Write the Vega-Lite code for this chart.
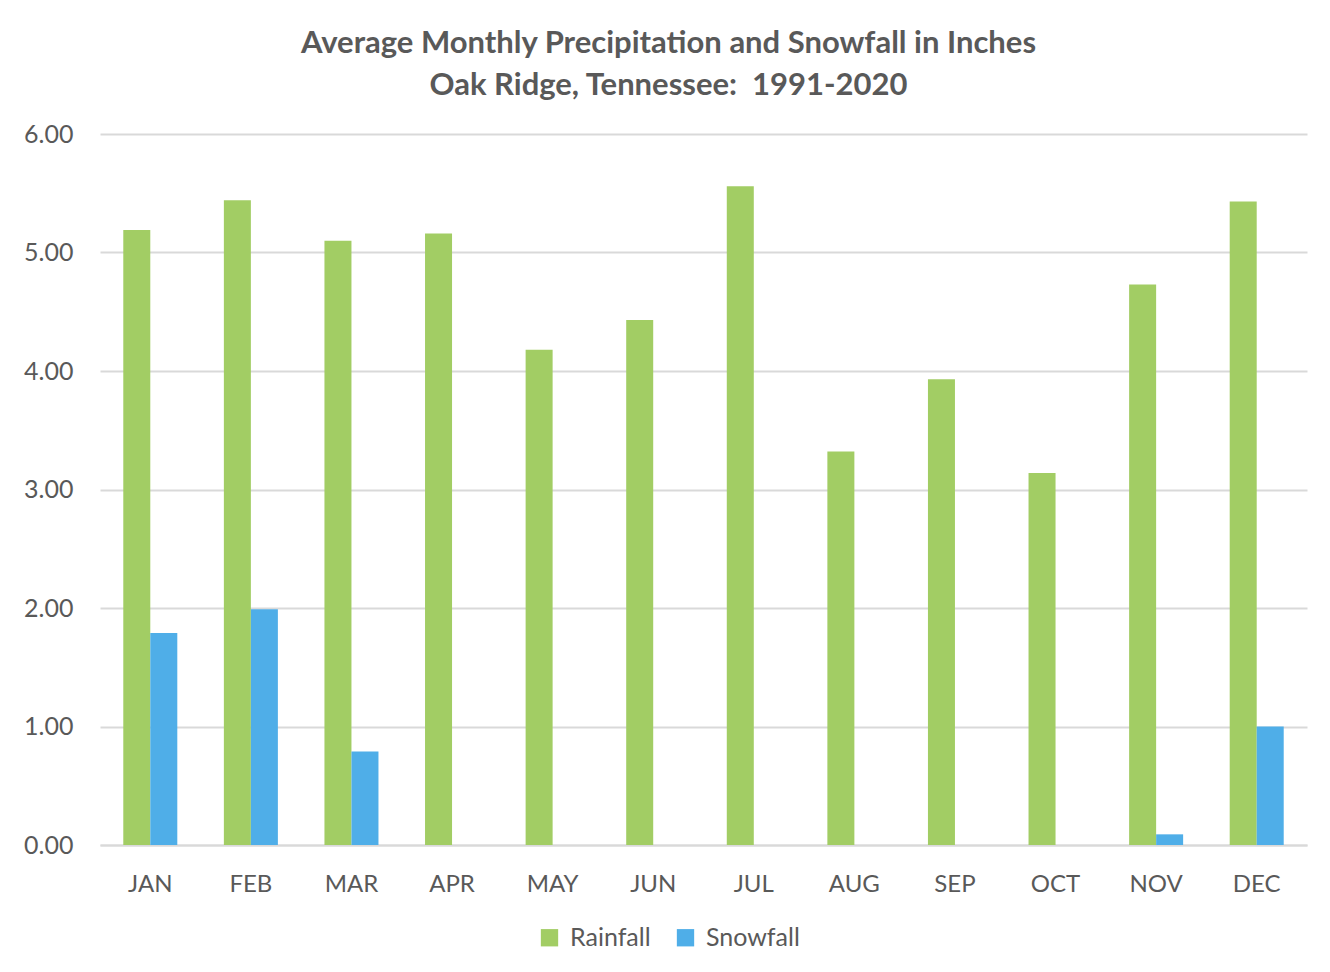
{
  "$schema": "https://vega.github.io/schema/vega-lite/v6.json",
  "width": 1207,
  "height": 711,
  "autosize": {"type": "none"},
  "padding": {"left": 100, "top": 134, "right": 23, "bottom": 127},
  "background": "white",
  "title": {
    "text": ["Average Monthly Precipitation and Snowfall in Inches", "Oak Ridge, Tennessee:\u00a0 1991-2020"],
    "font": "Lato",
    "fontSize": 31,
    "fontWeight": "bold",
    "color": "#595959",
    "anchor": "middle",
    "frame": "group",
    "dx": -35,
    "offset": -11,
    "lineHeight": 42,
    "baseline": "bottom"
  },
  "data": {
    "values": [
      {"month": "JAN", "type": "Rainfall", "value": 5.19},
      {"month": "JAN", "type": "Snowfall", "value": 1.79},
      {"month": "FEB", "type": "Rainfall", "value": 5.44},
      {"month": "FEB", "type": "Snowfall", "value": 1.99},
      {"month": "MAR", "type": "Rainfall", "value": 5.10},
      {"month": "MAR", "type": "Snowfall", "value": 0.79},
      {"month": "APR", "type": "Rainfall", "value": 5.16},
      {"month": "APR", "type": "Snowfall", "value": 0},
      {"month": "MAY", "type": "Rainfall", "value": 4.18},
      {"month": "MAY", "type": "Snowfall", "value": 0},
      {"month": "JUN", "type": "Rainfall", "value": 4.43},
      {"month": "JUN", "type": "Snowfall", "value": 0},
      {"month": "JUL", "type": "Rainfall", "value": 5.56},
      {"month": "JUL", "type": "Snowfall", "value": 0},
      {"month": "AUG", "type": "Rainfall", "value": 3.32},
      {"month": "AUG", "type": "Snowfall", "value": 0},
      {"month": "SEP", "type": "Rainfall", "value": 3.93},
      {"month": "SEP", "type": "Snowfall", "value": 0},
      {"month": "OCT", "type": "Rainfall", "value": 3.14},
      {"month": "OCT", "type": "Snowfall", "value": 0},
      {"month": "NOV", "type": "Rainfall", "value": 4.73},
      {"month": "NOV", "type": "Snowfall", "value": 0.09},
      {"month": "DEC", "type": "Rainfall", "value": 5.43},
      {"month": "DEC", "type": "Snowfall", "value": 1.0}
    ]
  },
  "mark": {"type": "bar"},
  "encoding": {
    "x": {
      "field": "month",
      "type": "nominal",
      "sort": ["JAN","FEB","MAR","APR","MAY","JUN","JUL","AUG","SEP","OCT","NOV","DEC"],
      "scale": {"paddingInner": 0.463, "paddingOuter": 0.2315},
      "axis": {
        "title": null,
        "labelAngle": 0,
        "labelFont": "Lato",
        "labelFontSize": 24,
        "labelColor": "#595959",
        "labelPadding": 27,
        "ticks": false,
        "domain": true,
        "domainColor": "#d9d9d9",
        "domainWidth": 2
      }
    },
    "xOffset": {"field": "type", "type": "nominal", "sort": ["Rainfall", "Snowfall"], "scale": {"paddingInner": 0, "paddingOuter": 0}},
    "y": {
      "field": "value",
      "type": "quantitative",
      "scale": {"domain": [0, 6], "nice": false},
      "axis": {
        "title": null,
        "values": [0, 1, 2, 3, 4, 5, 6],
        "format": ".2f",
        "labelFont": "Lato",
        "labelFontSize": 25,
        "labelColor": "#595959",
        "labelPadding": 27,
        "ticks": false,
        "domain": false,
        "grid": true,
        "gridColor": "#d9d9d9",
        "gridWidth": 2
      }
    },
    "color": {
      "field": "type",
      "type": "nominal",
      "sort": ["Rainfall", "Snowfall"],
      "scale": {"domain": ["Rainfall", "Snowfall"], "range": ["#A2CD64", "#4FAEE8"]},
      "legend": {
        "title": null,
        "orient": "none",
        "direction": "horizontal",
        "legendX": 437,
        "legendY": 791,
        "symbolType": "square",
        "symbolSize": 300,
        "symbolStrokeWidth": 0,
        "labelFont": "Lato",
        "labelFontSize": 25,
        "labelColor": "#595959",
        "labelOffset": 8,
        "columnPadding": 22
      }
    }
  },
  "config": {"view": {"stroke": null}}
}
